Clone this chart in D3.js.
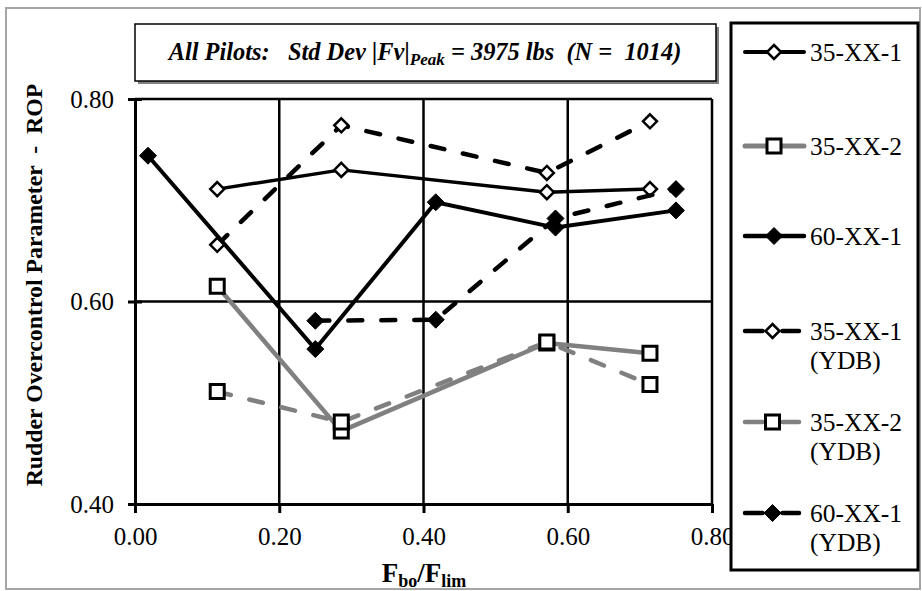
<!DOCTYPE html>
<html><head><meta charset="utf-8">
<script src="https://cdn.jsdelivr.net/npm/d3@7"></script>
<style>body{margin:0;background:#fff}svg{display:block}</style>
</head><body><svg id="c" width="922" height="591"></svg>
<script>
// ---- data ----
const xTicks = [0, 0.2, 0.4, 0.6, 0.8];
const yTicks = [0.4, 0.6, 0.8];
const x35_1  = [0.114, 0.286, 0.571, 0.714];
const y35_1  = [0.711, 0.730, 0.708, 0.711];
const x35_2  = [0.114, 0.286, 0.571, 0.714];
const y35_2  = [0.615, 0.472, 0.559, 0.549];
const x60_1  = [0.018, 0.25, 0.417, 0.583, 0.75];
const y60_1  = [0.744, 0.553, 0.698, 0.673, 0.690];
const x35_1y = [0.114, 0.286, 0.571, 0.714];
const y35_1y = [0.656, 0.774, 0.727, 0.778];
const x35_2y = [0.114, 0.286, 0.571, 0.714];
const y35_2y = [0.511, 0.481, 0.560, 0.518];
const x60_1y = [0.25, 0.417, 0.583, 0.75];
const y60_1y = [0.581, 0.582, 0.682, 0.711];
const legendNames = ["35-XX-1", "35-XX-2", "60-XX-1", "35-XX-1", "35-XX-2", "60-XX-1"];
const legendSuffix = ["", "", "", "(YDB)", "(YDB)", "(YDB)"];

// ---- styles ----
const styles = [
  {color:"#000", w:3.5, dash:null, marker:"diamondOpen"},
  {color:"#808080", w:4.5, dash:null, marker:"square"},
  {color:"#000", w:4, dash:null, marker:"diamondFilled"},
  {color:"#000", w:4.5, dash:"14,19", marker:"diamondOpen"},
  {color:"#808080", w:4.5, dash:"14,19", marker:"square"},
  {color:"#000", w:4.5, dash:"14,19", marker:"diamondFilled"}
];
const seriesData = [[x35_1,y35_1],[x35_2,y35_2],[x60_1,y60_1],[x35_1y,y35_1y],[x35_2y,y35_2y],[x60_1y,y60_1y]];

const svg = d3.select("#c");
const font = "'Liberation Serif','Times New Roman',serif";
const x = d3.scaleLinear().domain([0, 0.8]).range([135, 712]);
const y = d3.scaleLinear().domain([0.4, 0.8]).range([504, 99]);

// outer border
svg.append("rect").attr("x",6).attr("y",8).attr("width",914).attr("height",581)
  .attr("fill","#fff").attr("stroke","#a6a6a6").attr("stroke-width",2);

// gridlines
svg.append("g").selectAll("line").data(xTicks.slice(1)).join("line")
  .attr("x1",d=>x(d)).attr("x2",d=>x(d)).attr("y1",y(0.8)).attr("y2",y(0.4))
  .attr("stroke","#000").attr("stroke-width",2.5);
svg.append("g").selectAll("line").data(yTicks.slice(1)).join("line")
  .attr("x1",x(0)).attr("x2",x(0.8)).attr("y1",d=>y(d)).attr("y2",d=>y(d))
  .attr("stroke","#000").attr("stroke-width",2.5);

// axes
const xAxis = d3.axisBottom(x).tickValues(xTicks).tickFormat(d3.format(".2f")).tickSizeInner(9).tickSizeOuter(0).tickPadding(14);
const gx = svg.append("g").attr("transform",`translate(0,${y(0.4)})`).call(xAxis);
gx.select(".domain").attr("stroke","#000").attr("stroke-width",3);
gx.selectAll(".tick line").attr("stroke","#000").attr("stroke-width",3);
gx.selectAll(".tick text").attr("font-family",font).attr("font-size",25).attr("fill","#000");

const yAxis = d3.axisLeft(y).tickValues(yTicks).tickFormat(d3.format(".2f")).tickSizeInner(7).tickSizeOuter(0).tickPadding(14);
const gy = svg.append("g").attr("transform",`translate(${x(0)},0)`).call(yAxis);
gy.select(".domain").attr("stroke","#000").attr("stroke-width",3);
gy.selectAll(".tick line").attr("stroke","#000").attr("stroke-width",3).attr("x2",-7).attr("x1",7);
gy.selectAll(".tick text").attr("font-family",font).attr("font-size",25).attr("fill","#000");

// markers
function markerPath(type){
  if(type==="square") return "M-7,-7H7V7H-7Z";
  if(type==="diamondFilled") return "M0,-8.5L8.5,0L0,8.5L-8.5,0Z";
  return "M0,-7L7,0L0,7L-7,0Z";
}
function drawMarker(g, type, cx, cy){
  const p = g.append("path").attr("d",markerPath(type)).attr("transform",`translate(${cx},${cy})`);
  if(type==="diamondFilled") p.attr("fill","#000").attr("stroke","#000").attr("stroke-width",1);
  else p.attr("fill","#fff").attr("stroke","#000").attr("stroke-width",type==="square"?3:2.5);
}

// series
const line = d3.line().x(d=>x(d[0])).y(d=>y(d[1]));
seriesData.forEach((s,i)=>{
  const st = styles[i];
  const pts = s[0].map((v,j)=>[v, s[1][j]]);
  const g = svg.append("g");
  g.append("path").attr("d",line(pts)).attr("fill","none").attr("stroke",st.color)
    .attr("stroke-width",st.w).attr("stroke-linecap","round").attr("stroke-linejoin","round")
    .attr("stroke-dasharray",st.dash);
  pts.forEach(p=>drawMarker(g, st.marker, x(p[0]), y(p[1])));
});

// y axis title
const yt = svg.append("text").attr("transform","translate(42,285) rotate(-90)")
  .attr("text-anchor","middle").attr("font-family",font).attr("font-weight","bold")
  .attr("font-size",22).attr("fill","#000").text("Rudder Overcontrol Parameter  -  ROP")
  .style("white-space","pre");
{ const w = yt.node().getComputedTextLength(); yt.attr("font-size", 22*403/w); }

// x axis title
const xt = svg.append("text").attr("x",424).attr("y",582).attr("text-anchor","middle")
  .attr("font-family",font).attr("font-weight","bold").attr("font-size",27).attr("fill","#000");
xt.append("tspan").text("F");
xt.append("tspan").attr("font-size",18).attr("dy",5).text("bo");
xt.append("tspan").attr("dy",-5).text("/F");
xt.append("tspan").attr("font-size",18).attr("dy",5).text("lim");

// title box
svg.append("rect").attr("x",138).attr("y",27).attr("width",581).attr("height",57).attr("fill","#808080");
svg.append("rect").attr("x",135).attr("y",24).attr("width",581).attr("height",57)
  .attr("fill","#fff").attr("stroke","#000").attr("stroke-width",1.5);
const tt = svg.append("text").attr("x",425).attr("y",60).attr("text-anchor","middle")
  .attr("font-family",font).attr("font-weight","bold").attr("font-style","italic")
  .attr("font-size",20).attr("fill","#000").style("white-space","pre");
tt.append("tspan").text("All Pilots:   Std Dev |Fv|");
tt.append("tspan").attr("font-size",14).attr("dy",5).text("Peak");
tt.append("tspan").attr("dy",-5).text(" = 3975 lbs  (N =  1014)");
{ const w = tt.node().getComputedTextLength(); const s = 513/w;
  tt.attr("font-size",20*s); tt.select("tspan:nth-child(2)").attr("font-size",14*s); }

// legend
const lg = svg.append("g");
lg.append("rect").attr("x",731).attr("y",23).attr("width",187).attr("height",547)
  .attr("fill","#fff").attr("stroke","#000").attr("stroke-width",3);
const legY = [52, 146, 236, 331, 422, 513];
legendNames.forEach((n,i)=>{
  const st = styles[i], cy = legY[i];
  const g = lg.append("g");
  const x1 = 745, x2 = i<3 ? 804 : 799, mx = i<3 ? 774 : 772.5;
  if(st.dash){
    g.append("line").attr("x1",x1).attr("x2",mx-10).attr("y1",cy).attr("y2",cy)
      .attr("stroke",st.color).attr("stroke-width",st.w).attr("stroke-linecap","round");
    g.append("line").attr("x1",mx+10).attr("x2",x2).attr("y1",cy).attr("y2",cy)
      .attr("stroke",st.color).attr("stroke-width",st.w).attr("stroke-linecap","round");
  } else {
    g.append("line").attr("x1",x1).attr("x2",x2).attr("y1",cy).attr("y2",cy)
      .attr("stroke",st.color).attr("stroke-width",st.w+0.5).attr("stroke-linecap","round");
  }
  drawMarker(g, st.marker, mx, cy);
  g.append("text").attr("x",810).attr("y",cy+9).attr("font-family",font).attr("font-size",25.5)
    .attr("fill","#000").text(n);
  if(legendSuffix[i]) g.append("text").attr("x",810).attr("y",cy+38).attr("font-family",font)
    .attr("font-size",25.5).attr("fill","#000").text(legendSuffix[i]);
});
</script></body></html>
